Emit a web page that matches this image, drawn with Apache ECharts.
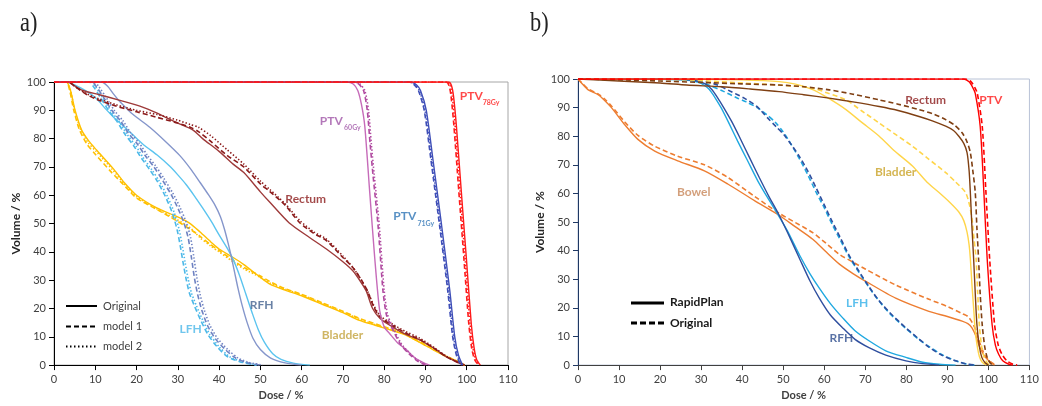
<!DOCTYPE html>
<html lang="en">
<head>
  <meta charset="UTF-8">
  <title>DVH a) b)</title>
  <script src="https://cdn.jsdelivr.net/npm/echarts@6/dist/echarts.min.js"></script>
  <style>
    html, body { margin: 0; padding: 0; background: #fff; }
    #main { width: 1042px; height: 406px; }
  </style>
</head>
<body>
<div id="main"></div>
<script>
  // ---------- panel a) : [dose %, volume %] ----------
  var aPTV78Orig = [[0,100],[95.6,100],[96.3,98.8],[96.8,95],[97.5,84.4],[98.7,61],[99.9,38],[101.1,14.6],[101.8,6],[102.4,2],[103.3,0]];
  var aPTV78M1   = [[0,100],[95,100],[95.7,98.8],[96.2,95],[96.9,84.4],[98.1,61],[99.3,38],[100.5,14.6],[101.2,6],[101.9,2],[102.8,0]];
  var aPTV78M2   = [[0,100],[95.3,100],[96,98.8],[96.5,95],[97.2,84.4],[98.4,61],[99.6,38],[100.8,14.6],[101.5,6],[102.2,2],[103,0]];

  var aPTV71Orig = [[0,100],[86.5,100],[87.8,99],[88.8,97],[90.2,90],[91.8,72.8],[93.9,49.5],[95.9,26.3],[97.1,10],[98,3.5],[99,0]];
  var aPTV71M1   = [[0,100],[86,100],[87.3,99],[88.3,97],[89.7,90],[91.3,72.8],[93.4,49.5],[95.4,26.3],[96.6,10],[97.6,3],[98.6,0]];
  var aPTV71M2   = [[0,100],[86.2,100],[87.5,99],[88.5,97],[89.9,90],[91.5,72.8],[93.6,49.5],[95.6,26.3],[96.8,10],[97.8,3.2],[98.8,0]];

  var aPTV60Orig = [[0,100],[71,100],[72.5,99.3],[73.6,97],[74.5,92],[75.3,84.4],[76.5,61],[77.7,38],[78.9,19.3],[80,13.5],[81.4,11],[83.5,7.5],[85.4,5.4],[87.5,2.5],[90,0.5],[91,0]];
  var aPTV60M1   = [[0,100],[72.3,100],[73.8,99.3],[75,97],[75.9,90],[76.6,78],[77.3,67],[78.5,49.5],[79.7,26.3],[80.5,18],[81.4,14.6],[83.8,7.7],[86,4],[88,1.5],[90,0]];
  var aPTV60M2   = [[0,100],[72.6,100],[74.1,99.3],[75.3,97],[76.2,90],[76.9,78],[77.6,67],[78.8,49.5],[80,26.3],[80.8,18],[81.7,14.6],[84.1,7.7],[86.3,4],[88.3,1.5],[90.3,0]];

  var aRectumOrig = [[0,100],[3.5,100],[5,98.6],[7,97],[11,95.5],[16,93.5],[20.8,91.5],[25,89],[27.3,87.3],[30,85.5],[33.7,83],[36,80],[40,75.5],[43.4,71],[46,68],[50,61.2],[52.3,57.5],[57,50.2],[62,45],[66,41],[70,36.5],[72.4,33.3],[74.5,29],[75.7,26],[77.2,20],[79,16.5],[82,13.5],[85,11],[88.6,8.9],[92,6],[95,3],[98.3,0.7],[99.5,0]];
  var aRectumM1   = [[0,100],[3.5,100],[5,98.5],[8,95.5],[11,93.5],[15,91.5],[20,89.5],[25,87.5],[30,85.5],[33,84],[35,82.5],[38,79],[42,74],[46,70],[50,64],[52.3,61.3],[56,56.5],[59.6,50.2],[63,46.5],[66,44],[70,38],[72.4,34.5],[74.5,30],[76,26],[77.5,20.5],[79,17],[82,14],[85,11.5],[88.6,9],[92,6],[95,3],[98.5,0.5],[99.5,0]];
  var aRectumM2   = [[0,100],[3.5,100],[5,98.5],[8,95.8],[11,94],[15,92],[20,90],[25,88.5],[30,86.5],[33,85],[35,84],[38,81],[42,76],[46,71],[50,65],[52.3,62],[56,57],[59.6,51],[63,47],[66,44.5],[70,38.5],[72.4,34.5],[74.5,30],[76,26],[77.5,21],[79,17.5],[82,14.5],[85,12],[88.6,9.5],[92,6.3],[95,3.2],[98.5,0.5],[99.5,0]];

  var aBladderOrig = [[0,100],[3,100],[4,97],[5.1,90],[6.7,83],[8.5,79],[10.3,76],[14.3,69.5],[17,64.5],[20,60],[24.9,55.5],[29.7,52.5],[33,50],[35.4,47],[38,43.5],[40,41],[43.4,38],[46,35.5],[50,31],[52.3,28.6],[56,26.5],[60,24.5],[65,21.5],[70,18.5],[74,15.8],[78,14],[84.5,11],[88,8.5],[91.8,5.5],[95,3],[98,1.2],[99.5,0]];
  var aBladderM1   = [[0,100],[3,100],[3.8,97],[4.8,90],[6.2,83],[8,78],[10,74.5],[14,68],[17,63.5],[20,59],[24.9,55],[29.7,51],[33,48],[35.4,45.5],[38,42.5],[40,40.5],[43.4,37],[46,34.5],[50,31.5],[52.3,29.5],[56,27],[60,25],[65,22],[70,19],[74,16.5],[78,14.5],[84.5,11.3],[88,8.8],[91.8,5.8],[95,3.2],[98,1.2],[99.5,0]];
  var aBladderM2   = [[0,100],[3,100],[4,97],[5,90],[6.5,83],[8.3,78.5],[10.2,75.5],[14.2,69],[17,64],[20,59.5],[24.9,55.2],[29.7,51.5],[33,48.5],[35.4,45],[38,42],[40,40],[43.4,36.5],[46,34],[50,31],[52.3,29],[56,26.8],[60,24.8],[65,21.8],[70,18.8],[74,16.2],[78,14.2],[84.5,11.2],[88,8.6],[91.8,5.6],[95,3.1],[98,1.2],[99.5,0]];

  var aLFHOrig = [[0,100],[3,100],[5,99],[7,97.5],[8.7,96],[10.5,93.8],[12.5,90.5],[14.5,87.5],[17,84.2],[19.5,80.8],[22,77.5],[25,74.2],[28,70.3],[30,67.2],[32,63.8],[34,59.8],[36,55.5],[38,51],[40,46],[42,41.2],[43.5,37],[45,31.5],[46.5,25],[48,18.5],[49.5,12.5],[51,8],[53,4],[55,2],[58,0.7],[62,0]];
  var aLFHM1   = [[0,100],[8.5,100],[9.5,98.5],[11.3,94.4],[13.2,90],[15.3,86],[17.2,81.5],[19.3,77.5],[21,73.5],[23.2,69],[25,65],[27,59.5],[28.6,54],[29.8,48],[30.6,42],[31.3,36],[32,30.5],[32.8,25.5],[34,21],[35.5,16],[37.2,11],[39.5,6.5],[42,3],[45,1.2],[49,0]];
  var aLFHM2   = [[0,100],[9,100],[10,98.5],[11.8,94.4],[13.7,90],[15.8,86],[17.7,81.5],[19.8,77.5],[21.5,73.5],[23.7,69],[25.5,65],[27.5,59.5],[29.1,54],[30.3,48],[31.1,42],[31.8,36],[32.5,30.5],[33.3,25.5],[34.5,21],[36,16],[37.7,11],[40,6.5],[42.5,3],[45.5,1.2],[49.5,0]];

  var aRFHOrig = [[0,100],[11.5,100],[13,98.5],[14.3,96],[16,93],[18.4,89.5],[20.5,87],[23.2,84],[27,79],[30.5,74],[33,69.5],[35.4,64.5],[37.5,60],[39,56.5],[40.3,52.5],[41.3,48],[42.2,43],[43,38],[43.8,32.5],[44.6,27],[45.6,21],[46.8,15],[48.2,9.5],[50,5.5],[52.5,2.5],[56,0.8],[60,0]];
  var aRFHM1   = [[0,100],[9.2,100],[10.2,98.5],[12.1,94.4],[14,90],[16.1,86.3],[18,82],[20.2,78.1],[22,74.2],[24.2,70],[26,66],[28.2,60.7],[30,55.5],[31.5,50.2],[32.5,45],[33.3,38],[34,31],[34.8,25],[35.8,19.5],[37.2,14],[39,9.5],[41.5,5.5],[44,2.5],[46.5,1],[50,0]];
  var aRFHM2   = [[0,100],[9.8,100],[10.8,98.5],[12.7,94.4],[14.6,90],[16.7,86.3],[18.6,82],[20.8,78.1],[22.6,74.2],[24.8,70],[26.6,66],[28.8,60.7],[30.6,55.5],[32.1,50.2],[33.1,45],[33.9,38],[34.6,31],[35.4,25],[36.4,19.5],[37.8,14],[39.6,9.5],[42.1,5.5],[44.6,2.5],[47.1,1],[50.6,0]];

  // ---------- panel b) ----------
  var bPTVRapid = [[0,100],[94,100],[95.3,99],[96.2,97],[96.8,95],[98,83.5],[98.9,60.4],[99.7,37.3],[100.9,14.2],[101.7,7],[102.5,3.8],[103.5,1.5],[105,0.3],[106,0]];
  var bPTVOrig  = [[0,100],[94.5,100],[95.8,99],[96.7,97],[97.3,95],[98.5,83.5],[99.4,60.4],[100.3,37.3],[101.5,14.2],[102.4,7],[103.3,3.8],[104.5,1.5],[106,0.3],[107,0]];

  var bRectumRapid = [[0,100],[10,99.3],[20,98.6],[26.5,97.9],[35,97.3],[42,96.5],[49,95.6],[55,94.5],[61.2,93.3],[67,92],[73.4,90.4],[78,89],[83.1,86.9],[86.5,85.3],[89.6,83.5],[91.5,82],[92.8,80],[94,77.5],[94.8,74.3],[95.3,68],[95.6,60.4],[96,48],[96.4,37.3],[96.8,25],[97.2,14.2],[97.8,6.5],[98.4,2.7],[99.2,0.8],[100,0]];
  var bRectumOrig  = [[0,100],[10,99.7],[20,99.3],[30,98.8],[40,98.3],[49,97.9],[55,97.3],[61.2,96.2],[67,94.7],[73.4,92.7],[78,91.2],[83.1,89.3],[86.5,87.8],[89.6,85.8],[91.8,83.8],[93.6,81.2],[94.8,78],[95.6,74.3],[96.2,68],[96.8,60.4],[97.2,48],[97.6,37.3],[98,25],[98.5,14],[99.1,6.5],[99.7,2.7],[100.4,0.8],[101,0]];

  var bBladderRapid = [[0,100],[30,99.9],[40,99.7],[49,99.1],[53,98.2],[57.2,96.3],[61,93.3],[65.3,89.3],[69,85],[73.4,80],[77,75],[81.5,69.6],[85,64],[87.9,60.4],[90.5,57],[92.8,53.5],[94,50.5],[94.8,46.5],[95.3,42],[95.6,37.3],[96,28],[96.4,20],[96.8,12],[97.2,7.3],[97.8,3],[98.5,1],[99.5,0]];
  var bBladderOrig  = [[0,100],[25,99.8],[35,99],[45,98.2],[52,97.6],[57.2,96.8],[61,95],[65.3,92.7],[69,89],[73.4,84.6],[77,81],[81.5,76.5],[85,72.5],[89.6,67.3],[92,64],[94.4,60.4],[95.4,56],[96,51.2],[96.5,44],[97,37.3],[97.4,25],[97.8,14],[98.4,6],[99,2.7],[99.6,1],[100.2,0]];

  var bBowelRapid = [[0,100],[0.9,98.5],[2.5,96.2],[4.9,94.5],[6.5,92.5],[8.2,89.9],[11.4,84],[14.6,78.9],[18.7,74.8],[24.3,71.4],[30.8,67.9],[36.5,63.3],[43,57.5],[49.1,52.3],[53,48.3],[57.2,44],[60.5,39.5],[63.7,35.3],[67,32],[70.1,29.3],[77.4,23.4],[85.5,18.8],[90,17],[93.6,15.4],[95,14.5],[96,13],[97,10],[97.6,7.3],[98.5,4.5],[99.3,2.7],[100.5,1],[101.5,0]];
  var bBowelOrig  = [[0,100],[0.9,98.7],[2.5,96.5],[4.9,94.8],[6.5,93],[8.2,90.5],[11.4,85],[14.6,80.3],[18.7,76.5],[24.3,73],[30.8,70],[36.5,65.6],[43,59],[49.1,53],[53,49.8],[57.2,46.3],[60.5,42.5],[63.7,38.7],[67,36],[70.1,33.5],[77.4,28],[85.5,23],[90,20.5],[93.6,18],[95,17],[96,15],[97,12],[97.6,9],[98.5,5.5],[99.3,3],[100.5,1.2],[101.8,0]];

  var bLFHRapid = [[0,100],[20,99.9],[25,99.7],[28,99.3],[30,98.5],[31.5,97],[32.4,95.6],[33.6,93],[34.9,89.9],[36.8,84.5],[38.9,78.3],[41.3,71.5],[43.8,64.4],[46.2,58.5],[48.6,52.9],[51,47],[54,38.4],[56.5,32],[58.8,26.9],[61.5,21.5],[64.5,16.5],[67.5,12],[70.9,8.5],[75,5],[79.9,2.7],[84,1],[88,0.3],[92,0]];
  var bRFHRapid = [[0,100],[20,100],[26,99.8],[29,99.3],[31,98.3],[32.5,96.5],[34,93.5],[35.5,90],[37.5,85],[39.5,79.3],[41.8,72.5],[44.2,65.5],[46.5,59],[48.8,53],[51,46.5],[54,37.2],[56.5,29.5],[58.8,23.4],[61.5,17.5],[64.5,13],[67.5,9],[70.9,6.1],[75,3.5],[79.9,1.5],[84,0.5],[88,0]];
  var bLFHOrig  = [[0,100],[25,100],[30,99],[32.5,97.5],[35,96],[38.9,93.3],[41,92],[43.8,89.9],[46,87.5],[48,85],[50,81.5],[52,77],[54,72],[56,66.5],[58,60.5],[60,55],[62,49],[64,43.5],[66,38],[68.5,32.3],[71,27],[73.3,22.5],[76,18],[79.9,12.8],[83,9],[85.5,6.5],[88.5,3.8],[92,1.5],[95,0.3],[97,0]];
  var bRFHOrig  = [[0,100],[28,100],[31,99.2],[34,97.9],[37,95.8],[40.5,93.3],[43.5,90.5],[46.2,86.4],[48.3,83.3],[50.2,80.5],[52,77],[54,72.8],[56,67.8],[58,62],[60,56],[62,50],[64,44.3],[66,38.5],[68.5,32.7],[71,27.2],[73.3,22.6],[76,18.3],[79.9,13],[83,9.2],[85.5,6.3],[88.5,3.6],[92,1.5],[95,0.3],[97,0]];

  // structure labels: [text, dose, volume, colour, size]
  var aLabels = [
    ['PTV', 101.1, 94.9, '#ff1a1a', 12], ['78Gy', 105.9, 92.5, '#ff1a1a', 7],
    ['PTV', 67.2, 86.2, '#a056a8', 12], ['60Gy', 72.3, 83.8, '#a056a8', 7],
    ['PTV', 85, 52.6, '#2e74b5', 12], ['71Gy', 90.1, 50.1, '#2e74b5', 7],
    ['Rectum', 61, 58.8, '#8b1a1a', 12],
    ['Bladder', 69.9, 10.7, '#c3a23c', 12],
    ['RFH', 50.3, 21.2, '#44618f', 12],
    ['LFH', 33.1, 12.7, '#4cb8e8', 12]
  ];
  var bLabels = [
    ['PTV', 100.6, 92.7, '#ff1a1a', 12],
    ['Rectum', 84.7, 92.7, '#8b1a1a', 12],
    ['Bladder', 77.4, 67.5, '#c9a227', 12],
    ['Bowel', 28.2, 60.4, '#c8875a', 12],
    ['LFH', 68, 21.7, '#33b0e8', 12],
    ['RFH', 64.2, 9.6, '#2f4f8f', 12]
  ];

  var SOLID = 'solid', DASH = [5, 3], DOT = [1.4, 2];

  function curve(grid, data, color, type) {
    return {
      type: 'line', xAxisIndex: grid, yAxisIndex: grid, data: data,
      symbol: 'none', smooth: 0.25, silent: true,
      lineStyle: { color: color, width: type === SOLID ? 1.4 : 1.6, type: type }
    };
  }

  function labelSeries(grid, list) {
    return {
      type: 'scatter', xAxisIndex: grid, yAxisIndex: grid, symbolSize: 1, silent: true, z: 10,
      itemStyle: { color: 'transparent' },
      data: list.map(function (l) {
        return {
          value: [l[1], l[2]],
          label: {
            show: true, position: 'inside', formatter: l[0], color: l[3],
            fontSize: l[4], fontWeight: 'bold', fontFamily: 'Lato'
          }
        };
      })
    };
  }

  function xAx(grid, lineColor) {
    return {
      gridIndex: grid, type: 'value', min: 0, max: 110, interval: 10,
      name: 'Dose / %', nameLocation: 'middle', nameGap: 23,
      nameTextStyle: { fontWeight: 'bold', fontSize: 11, color: '#404040', fontFamily: 'Lato' },
      axisLine: { lineStyle: { color: lineColor, width: 1 } },
      axisTick: { length: 5, lineStyle: { color: lineColor } },
      axisLabel: { color: '#404040', fontSize: 11, fontFamily: 'Lato', margin: 9 },
      splitLine: { show: false }
    };
  }

  function yAx(grid, lineColor) {
    return {
      gridIndex: grid, type: 'value', min: 0, max: 100, interval: 10,
      name: 'Volume / %', nameLocation: 'middle', nameGap: 32,
      nameTextStyle: { fontWeight: 'bold', fontSize: 12, color: '#262626', fontFamily: 'Lato' },
      axisLine: { show: true, lineStyle: { color: lineColor, width: 1 } },
      axisTick: { show: true, length: 5, lineStyle: { color: lineColor } },
      axisLabel: { color: '#404040', fontSize: 11, fontFamily: 'Lato', margin: 8 },
      splitLine: { show: false }
    };
  }

  var series = [
    // a)
    curve(0, aBladderOrig, '#ffc000', SOLID), curve(0, aBladderM1, '#ffc000', DASH), curve(0, aBladderM2, '#ffc000', DOT),
    curve(0, aLFHOrig, '#5bc4ef', SOLID), curve(0, aLFHM1, '#4cb8e8', DASH), curve(0, aLFHM2, '#4cb8e8', DOT),
    curve(0, aRFHOrig, '#8596cb', SOLID), curve(0, aRFHM1, '#6e82c2', DASH), curve(0, aRFHM2, '#6e82c2', DOT),
    curve(0, aRectumOrig, '#9e3a3a', SOLID), curve(0, aRectumM1, '#8b1a1a', DASH), curve(0, aRectumM2, '#8b1a1a', DOT),
    curve(0, aPTV60Orig, '#c66bb9', SOLID), curve(0, aPTV60M1, '#b04aa0', DASH), curve(0, aPTV60M2, '#b04aa0', DOT),
    curve(0, aPTV71Orig, '#3f4fb8', SOLID), curve(0, aPTV71M1, '#3f4fb8', DASH), curve(0, aPTV71M2, '#3f4fb8', DOT),
    curve(0, aPTV78Orig, '#ff1a1a', SOLID), curve(0, aPTV78M1, '#ff1a1a', DASH), curve(0, aPTV78M2, '#ff1a1a', DOT),
    labelSeries(0, aLabels),
    // b)
    curve(1, bBowelRapid, '#ed7d31', SOLID), curve(1, bBowelOrig, '#ed7d31', DASH),
    curve(1, bLFHRapid, '#1fa8e0', SOLID), curve(1, bLFHOrig, '#1fa8e0', DASH),
    curve(1, bRFHRapid, '#2f4f9f', SOLID), curve(1, bRFHOrig, '#2f4f9f', DASH),
    curve(1, bBladderRapid, '#ffd54a', SOLID), curve(1, bBladderOrig, '#ffd54a', DASH),
    curve(1, bRectumRapid, '#7f3f12', SOLID), curve(1, bRectumOrig, '#7f3f12', DASH),
    curve(1, bPTVRapid, '#ff0000', SOLID), curve(1, bPTVOrig, '#ff0000', DASH),
    labelSeries(1, bLabels)
  ];

  var legendFont = '11px Lato';
  var graphic = [
    { type: 'text', left: 20, top: 10, scaleX: 0.8, style: { text: 'a)', font: '28px "Liberation Serif"', fill: '#222' } },
    { type: 'text', left: 530, top: 10, scaleX: 0.8, style: { text: 'b)', font: '28px "Liberation Serif"', fill: '#222' } },
    // legend a)
    { type: 'line', shape: { x1: 66, y1: 306, x2: 97, y2: 306 }, style: { stroke: '#000', lineWidth: 2 } },
    { type: 'line', shape: { x1: 66, y1: 326.5, x2: 97, y2: 326.5 }, style: { stroke: '#000', lineWidth: 2, lineDash: [5, 3] } },
    { type: 'line', shape: { x1: 66, y1: 346.5, x2: 97, y2: 346.5 }, style: { stroke: '#000', lineWidth: 2, lineDash: [1.5, 2.5] } },
    { type: 'text', x: 103, y: 306, style: { text: 'Original', font: legendFont, fill: '#404040', verticalAlign: 'middle' } },
    { type: 'text', x: 103, y: 326.5, style: { text: 'model 1', font: legendFont, fill: '#404040', verticalAlign: 'middle' } },
    { type: 'text', x: 103, y: 346.5, style: { text: 'model 2', font: legendFont, fill: '#404040', verticalAlign: 'middle' } },
    // legend b)
    { type: 'line', shape: { x1: 631, y1: 303, x2: 664, y2: 303 }, style: { stroke: '#000', lineWidth: 3 } },
    { type: 'line', shape: { x1: 631, y1: 323, x2: 664, y2: 323 }, style: { stroke: '#000', lineWidth: 3, lineDash: [6, 3] } },
    { type: 'text', x: 670, y: 302, style: { text: 'RapidPlan', font: 'bold 12px Lato', fill: '#1a1a1a', verticalAlign: 'middle' } },
    { type: 'text', x: 670, y: 323, style: { text: 'Original', font: 'bold 12px Lato', fill: '#1a1a1a', verticalAlign: 'middle' } }
  ];

  var chartDom = document.getElementById('main');
  var myChart = echarts.init(chartDom);
  var option = {
    animation: false,
    backgroundColor: '#fff',
    grid: [
      { left: 54, top: 82, width: 454, height: 287, show: true, borderColor: '#a6a6a6', borderWidth: 1 },
      { left: 578, top: 79, width: 453, height: 289, show: true, borderColor: '#b8c2d6', borderWidth: 1 }
    ],
    xAxis: [xAx(0, '#000'), xAx(1, '#404040')],
    yAxis: [yAx(0, '#000'), yAx(1, '#1f3864')],
    series: series,
    graphic: graphic
  };
  option && myChart.setOption(option);
</script>
</body>
</html>
